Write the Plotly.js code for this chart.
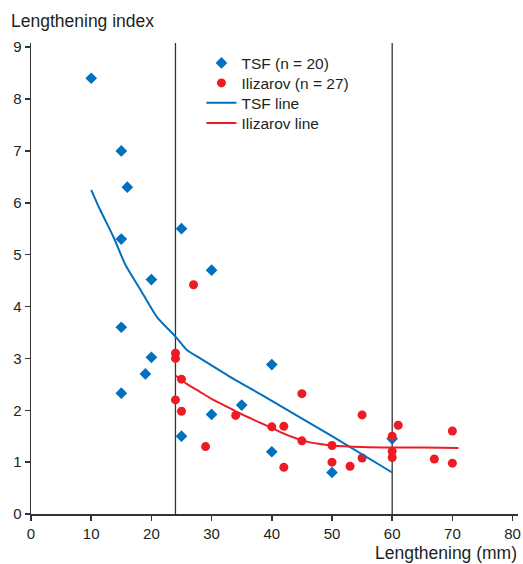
<!DOCTYPE html>
<html>
<head>
<meta charset="utf-8">
<script src="https://cdn.plot.ly/plotly-3.0.1.min.js"></script>
<style>html,body{margin:0;padding:0;background:#fff;}#chart{width:523px;height:564px;}</style>
</head>
<body>
<div id="chart"></div>
<script>
// TSF scatter points (lengthening mm, lengthening index)
const tsfX = [10, 15, 16, 15, 25, 20, 30, 15, 20, 19, 15, 25, 30, 35, 40, 40, 50, 60];
const tsfY = [8.4, 7.0, 6.3, 5.3, 5.5, 4.52, 4.7, 3.6, 3.02, 2.7, 2.33, 1.5, 1.92, 2.1, 2.88, 1.2, 0.8, 1.45];
// Ilizarov scatter points
const ilzX = [24, 24, 27, 25, 24, 25, 29, 34, 40, 42, 45, 42, 45, 50, 50, 53, 55, 55, 60, 60, 60, 61, 67, 70, 70];
const ilzY = [3.1, 3.0, 4.42, 2.6, 2.2, 1.98, 1.3, 1.9, 1.68, 1.69, 2.32, 0.9, 1.41, 1.32, 1.0, 0.92, 1.91, 1.08, 1.5, 1.21, 1.09, 1.71, 1.06, 1.6, 0.98];
// TSF fitted line
const tsfLineX = [10, 11.5, 13.7, 15.7, 18.2, 20.9, 24, 25.9, 28.1, 33.7, 38.1, 50, 60];
const tsfLineY = [6.25, 5.86, 5.34, 4.8, 4.32, 3.8, 3.42, 3.16, 3.0, 2.6, 2.31, 1.5, 0.8];
// Ilizarov fitted line
const ilzLineX = [24, 26, 28, 30, 32, 34, 36, 38, 40, 42, 44, 46, 48, 50, 55, 60, 65, 71];
const ilzLineY = [2.67, 2.5, 2.36, 2.22, 2.1, 1.98, 1.87, 1.76, 1.66, 1.55, 1.46, 1.39, 1.35, 1.32, 1.29, 1.28, 1.28, 1.27];
// Reference vertical lines
const refLinesX = [24, 60];
// Axis ticks
const xTicks = [0, 10, 20, 30, 40, 50, 60, 70, 80];
const yTicks = [0, 1, 2, 3, 4, 5, 6, 7, 8, 9];
// Legend labels
const seriesNames = ['TSF (n = 20)', 'Ilizarov (n = 27)', 'TSF line', 'Ilizarov line'];

const BLUE = '#0070bf';
const RED = '#ed1c24';
const AX = '#333333';
const TXT = '#231f20';
const FONT = 'Liberation Sans, Arial, Helvetica, sans-serif';

const traces = [
  {x: tsfX, y: tsfY, type: 'scatter', mode: 'markers', name: seriesNames[0], legend: 'legend',
   marker: {symbol: 'diamond', size: 9, color: BLUE}},
  {x: ilzX, y: ilzY, type: 'scatter', mode: 'markers', name: seriesNames[1], legend: 'legend2',
   marker: {symbol: 'circle', size: 9, color: RED}},
  {x: tsfLineX, y: tsfLineY, type: 'scatter', mode: 'lines', name: seriesNames[2], legend: 'legend3',
   line: {color: BLUE, width: 2, shape: 'spline', smoothing: 0.6}},
  {x: ilzLineX, y: ilzLineY, type: 'scatter', mode: 'lines', name: seriesNames[3], legend: 'legend4',
   line: {color: RED, width: 2, shape: 'spline', smoothing: 0.6}}
];

const shapes = refLinesX.map(v => ({
  type: 'line', xref: 'x', yref: 'paper', x0: v, x1: v, y0: 0, y1: 1,
  line: {color: AX, width: 1.3}, layer: 'below'
}));

function leg(y) {
  return {x: 0.35, y: y, xanchor: 'left', yanchor: 'middle', bgcolor: 'rgba(0,0,0,0)',
          font: {family: FONT, size: 15.5, color: TXT}, itemwidth: 30, borderwidth: 0};
}

const layout = {
  width: 523, height: 564,
  margin: {l: 31, r: 5, t: 43, b: 50},
  paper_bgcolor: '#fff', plot_bgcolor: '#fff',
  font: {family: FONT, color: TXT, size: 14},
  showlegend: true,
  legend: leg(0.9569),
  legend2: leg(0.9144),
  legend3: leg(0.8720),
  legend4: leg(0.8295),
  xaxis: {range: [0, 80.9], tickvals: xTicks, ticktext: xTicks.map(String),
          showgrid: false, zeroline: false, showline: true, linecolor: AX, linewidth: 1.5,
          ticks: 'outside', ticklen: 5, tickwidth: 1.5, tickcolor: AX,
          tickfont: {family: FONT, size: 15, color: TXT}, fixedrange: true},
  yaxis: {range: [0, 9.08], tickvals: yTicks, ticktext: yTicks.map(String),
          showgrid: false, zeroline: false, showline: true, linecolor: AX, linewidth: 1.5,
          ticks: 'outside', ticklen: 5, tickwidth: 1.5, tickcolor: AX,
          tickfont: {family: FONT, size: 15, color: TXT}, fixedrange: true},
  shapes: shapes,
  annotations: [
    {text: 'Lengthening index', xref: 'paper', yref: 'paper', x: -0.046, y: 1.046,
     xanchor: 'left', yanchor: 'middle', showarrow: false,
     font: {family: FONT, size: 17.5, color: TXT}},
    {text: 'Lengthening (mm)', xref: 'paper', yref: 'paper', x: 1.003, y: -0.0828,
     xanchor: 'right', yanchor: 'middle', showarrow: false,
     font: {family: FONT, size: 17.5, color: TXT}}
  ]
};

Plotly.newPlot('chart', traces, layout, {displayModeBar: false, staticPlot: true});
</script>
</body>
</html>
